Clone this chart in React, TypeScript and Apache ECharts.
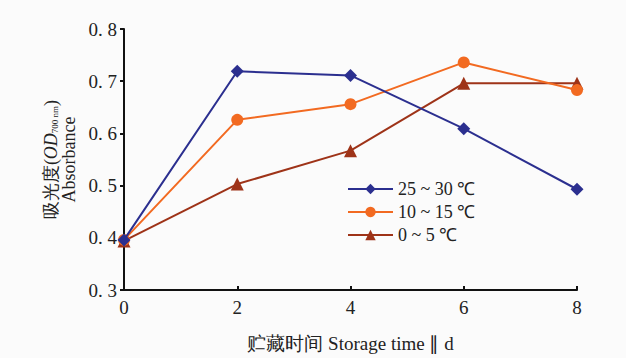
import React, { useEffect, useRef } from "react";
import * as echarts from "echarts";

const days = [0, 2, 4, 6, 8];
const seriesNames = ["25 ~ 30 ℃", "10 ~ 15 ℃", "0 ~ 5 ℃"];
const hot = [0.396, 0.719, 0.711, 0.609, 0.493];
const mid = [0.396, 0.626, 0.656, 0.736, 0.683];
const cold = [0.394, 0.503, 0.567, 0.696, 0.696];
const colors = ["#2b2f8f", "#f26a21", "#9e3318"];
const symbols = ["diamond", "circle", "triangle"];

const FONT = "Liberation Serif";

export default function App() {
  const ref = useRef<HTMLDivElement>(null);
  useEffect(() => {
    const chart = echarts.init(ref.current!, null, { renderer: "svg" });
    const values = [hot, mid, cold];
    chart.setOption({
      animation: false,
      backgroundColor: "#fbfbfb",
      textStyle: { fontFamily: FONT },
      grid: { left: 124, right: 49, top: 29, bottom: 65 },
      legend: {
        left: 342,
        top: 175,
        orient: "vertical",
        itemWidth: 45,
        itemHeight: 13,
        itemGap: 5,
        textStyle: { fontFamily: FONT, fontSize: 18, color: "#222" },
        data: seriesNames,
      },
      xAxis: {
        type: "value",
        min: 0,
        max: 8,
        interval: 2,
        name: "贮藏时间 Storage time ∥ d",
        nameLocation: "middle",
        nameGap: 44,
        nameTextStyle: { fontFamily: FONT, fontSize: 19, color: "#222" },
        axisLine: { lineStyle: { color: "#111", width: 2 } },
        axisTick: { inside: true, length: 4, lineStyle: { color: "#111", width: 2 } },
        axisLabel: { fontFamily: FONT, fontSize: 19, color: "#222", margin: 8 },
        splitLine: { show: false },
      },
      yAxis: {
        type: "value",
        min: 0.3,
        max: 0.8,
        interval: 0.1,
        name: "{a|吸光度(}{i|OD}{s|700 nm}{a|)}\n{b|Absorbance}",
        nameLocation: "middle",
        nameRotate: 90,
        nameGap: 45,
        nameTextStyle: {
          rich: {
            a: { fontFamily: FONT, fontSize: 18, color: "#222" },
            i: { fontFamily: FONT, fontSize: 18, fontStyle: "italic", color: "#222" },
            s: { fontFamily: FONT, fontSize: 9, color: "#222", padding: [8, 0, 0, 0] },
            b: { fontFamily: FONT, fontSize: 18, color: "#222" },
          },
        },
        axisLine: { show: true, lineStyle: { color: "#111", width: 2 } },
        axisTick: { show: true, length: 4, lineStyle: { color: "#111", width: 2 } },
        axisLabel: {
          fontFamily: FONT,
          fontSize: 19,
          color: "#222",
          margin: 7,
          formatter: (v: number) => v.toFixed(1).replace(".", ". "),
        },
        splitLine: { show: false },
      },
      series: values.map((vals, i) => ({
        name: seriesNames[i],
        type: "line",
        data: days.map((d, j) => [d, vals[j]]),
        symbol: symbols[i],
        symbolSize: i === 1 ? 12 : 13,
        lineStyle: { color: colors[i], width: 2 },
        itemStyle: { color: colors[i] },
        z: 3 - i,
      })),
    });
    return () => chart.dispose();
  }, []);
  return (
    <div
      ref={ref}
      style={{ position: "fixed", left: 0, top: 0, width: 626, height: 358 }}
    />
  );
}
